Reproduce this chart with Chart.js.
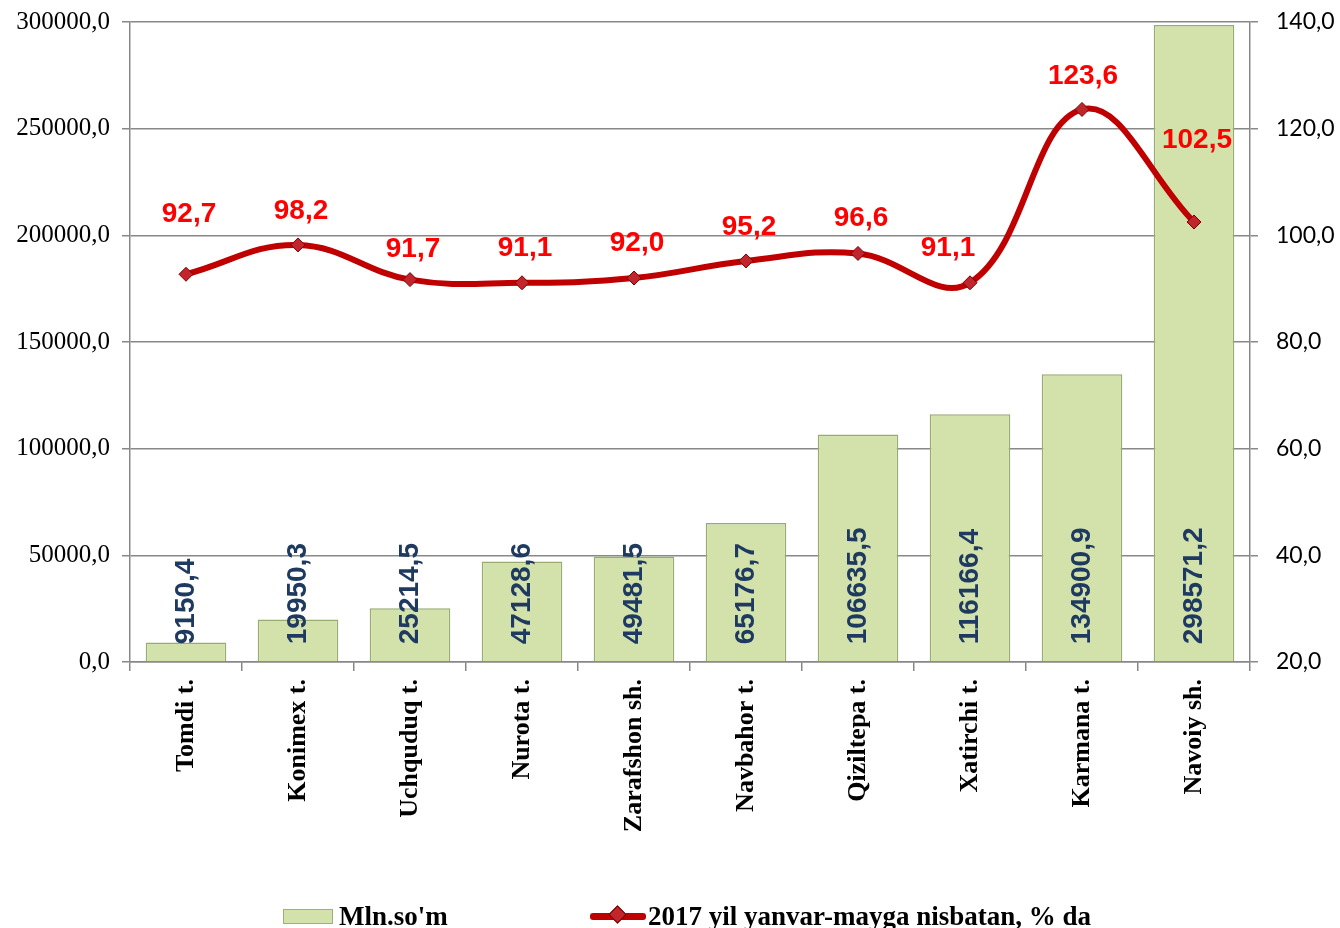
<!DOCTYPE html>
<html>
<head>
<meta charset="utf-8">
<script src="https://cdn.jsdelivr.net/npm/chart.js@4/dist/chart.umd.min.js"></script>
<style>
  html, body { margin: 0; padding: 0; background: #fff; overflow: hidden; }
  #wrap { position: relative; width: 1340px; height: 928px; overflow: hidden; }
  #legend { position: absolute; top: 899px; left: 0; width: 1340px; height: 34px;
    font: bold 27px "Liberation Serif", "Times New Roman", serif; color: #000; }
  .lg { position: absolute; top: 0; display: flex; align-items: center; height: 34px; white-space: nowrap; }
  .box { width: 48px; height: 13px; background: #d3e2ab; border: 1px solid #9fb07a; margin-right: 6px; }
  .ln { position: relative; width: 56px; height: 7px; background: #c00000; margin-right: 2px; border-radius: 3px; }
  .ln i { position: absolute; left: 21px; top: -5px; width: 13px; height: 13px; background: #c0262c;
    border: 1px solid #7a0000; transform: rotate(45deg); box-sizing: border-box; }
</style>
</head>
<body>
<div id="wrap">
  <canvas id="chart" width="1340" height="928"></canvas>
  <div id="legend">
    <div class="lg" style="left:283px"><span class="box"></span>Mln.so'm</div>
    <div class="lg" style="left:590px"><span class="ln"><i></i></span>2017 yil yanvar-mayga nisbatan, % da</div>
  </div>
</div>
<script>
// Ma'lumotlar
const districts = ['Tomdi t.', 'Konimex t.', 'Uchquduq t.', 'Nurota t.', 'Zarafshon sh.',
                   'Navbahor t.', 'Qiziltepa t.', 'Xatirchi t.', 'Karmana t.', 'Navoiy sh.'];
const volumeMln = [9150.4, 19950.3, 25214.5, 47128.6, 49481.5, 65176.7, 106635.5, 116166.4, 134900.9, 298571.2];
const percentPrev = [92.7, 98.2, 91.7, 91.1, 92.0, 95.2, 96.6, 91.1, 123.6, 102.5];
const volumeTicks = [0, 50000, 100000, 150000, 200000, 250000, 300000];
const percentTicks = [20, 40, 60, 80, 100, 120, 140];

const barLabel = 'Mln.so\'m';
const lineLabel = '2017 yil yanvar-mayga nisbatan, % da';

// foiz yozuvlarining nuqtaga nisbatan siljishi (px)
const lineLabelLift = [60, 34, 30, 35, 35, 34, 35, 35, 33, 82];
const lineLabelShift = [3, 3, 3, 3, 3, 3, 3, -22, 1, 3];

function fmt(v) {
    return v.toFixed(1).replace('.', ',');
}

// Qiymat yozuvlari
const valueLabels = {
    id: 'valueLabels',
    afterDatasetsDraw(chart) {
        const ctx = chart.ctx;
        const bars = chart.getDatasetMeta(0).data;
        ctx.save();
        ctx.fillStyle = '#1f3a60';
        ctx.font = 'bold 28px "Liberation Sans", Arial, sans-serif';
        ctx.textAlign = 'left';
        ctx.textBaseline = 'middle';
        bars.forEach((el, i) => {
            ctx.save();
            ctx.translate(el.x, el.base - 17);
            ctx.rotate(-Math.PI / 2);
            ctx.fillText(fmt(volumeMln[i]), 0, 0);
            ctx.restore();
        });
        const pts = chart.getDatasetMeta(1).data;
        ctx.fillStyle = '#ff0000';
        ctx.font = 'bold 28px "Liberation Sans", Arial, sans-serif';
        ctx.textAlign = 'center';
        pts.forEach((el, i) => {
            ctx.fillText(fmt(percentPrev[i]), el.x + lineLabelShift[i], el.y - lineLabelLift[i]);
        });
        ctx.restore();
    }
};

const ctx = document.getElementById('chart').getContext('2d');
new Chart(ctx, {
    data: {
        labels: districts,
        datasets: [{
            type: 'bar',
            label: barLabel,
            data: volumeMln,
            yAxisID: 'y',
            backgroundColor: '#d3e2ab',
            borderColor: '#98ab72',
            borderWidth: 1.5,
            barPercentage: 0.72,
            categoryPercentage: 1,
            order: 2
        }, {
            type: 'line',
            label: lineLabel,
            data: percentPrev,
            yAxisID: 'y1',
            borderColor: '#c00000',
            borderWidth: 6,
            tension: 0.4,
            pointStyle: 'rectRot',
            pointRadius: 7,
            pointBackgroundColor: '#c0262c',
            pointBorderColor: '#7a0000',
            pointBorderWidth: 1,
            order: 1
        }]
    },
    options: {
        responsive: false,
        animation: false,
        layout: { padding: { top: 22, bottom: 0, left: 0, right: 0 } },
        plugins: {
            legend: { display: false },
            tooltip: { enabled: false }
        },
        scales: {
            x: {
                grid: { drawOnChartArea: false, offset: true, tickLength: 9, color: '#888', lineWidth: 1.5 },
                border: { color: '#888', width: 1.5 },
                ticks: {
                    minRotation: 90, maxRotation: 90, padding: 8, color: '#000',
                    font: { family: '"Liberation Serif", "Times New Roman", serif', size: 26, weight: 'bold' }
                },
                afterFit(s) { s.height = 928 - 662; s.paddingLeft = 0; s.paddingRight = 0; }
            },
            y: {
                position: 'left',
                min: 0, max: 300000,
                afterBuildTicks(s) { s.ticks = volumeTicks.map(v => ({ value: v })); },
                grid: { color: '#888', lineWidth: 1.5, tickLength: 8 },
                border: { color: '#888', width: 1.5 },
                ticks: {
                    color: '#000', padding: 12,
                    font: { family: '"Liberation Serif", "Times New Roman", serif', size: 25 },
                    callback: v => fmt(v)
                },
                afterFit(s) { s.width = 130; s.paddingTop = 0; s.paddingBottom = 0; }
            },
            y1: {
                position: 'right',
                min: 20, max: 140,
                afterBuildTicks(s) { s.ticks = percentTicks.map(v => ({ value: v })); },
                grid: { drawOnChartArea: false, color: '#888', lineWidth: 1.5, tickLength: 8 },
                border: { color: '#888', width: 1.5 },
                ticks: {
                    color: '#000', padding: 18,
                    font: { family: 'Lato, "Open Sans", sans-serif', size: 23 },
                    callback: v => fmt(v)
                },
                afterFit(s) { s.width = 90; s.paddingTop = 0; s.paddingBottom = 0; }
            }
        }
    },
    plugins: [valueLabels]
});
</script>
</body>
</html>
